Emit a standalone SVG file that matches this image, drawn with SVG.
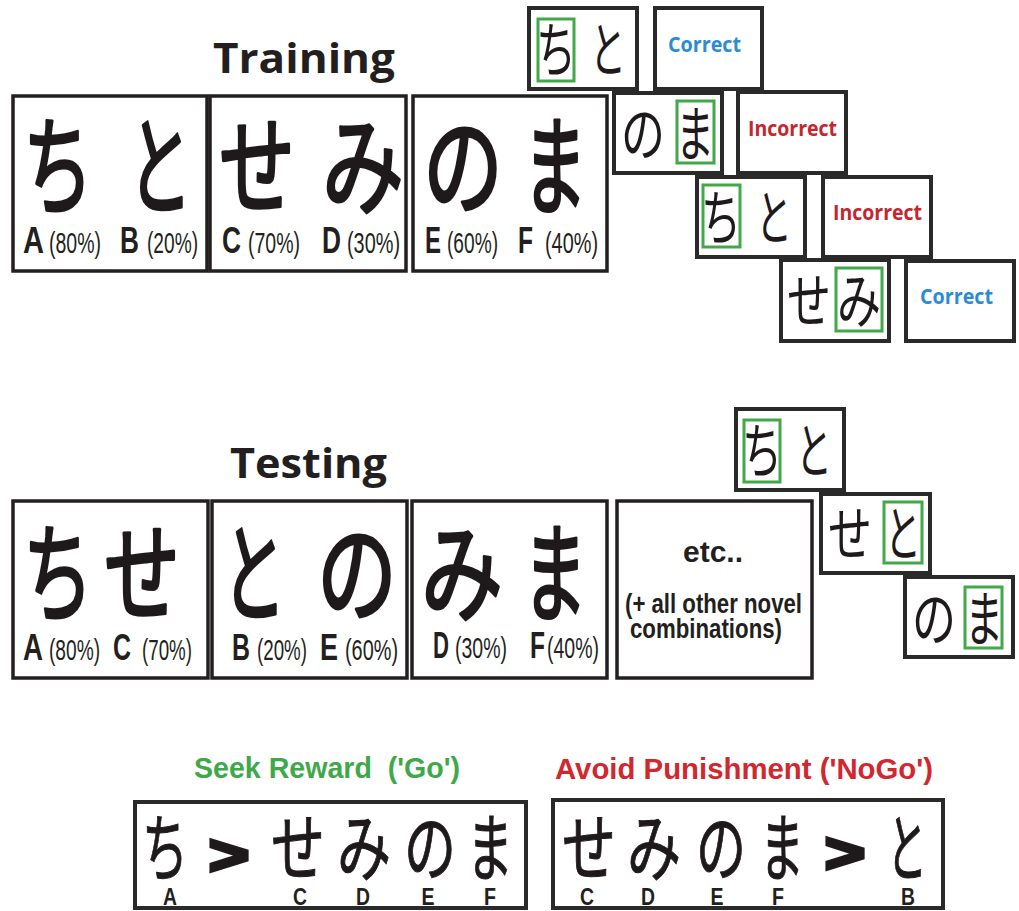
<svg xmlns="http://www.w3.org/2000/svg" width="1019" height="911" viewBox="0 0 1019 911">
  <style>
    .box { fill: #fff; stroke: #231f20; stroke-width: 3.5; }
    .sbox { fill: #fff; stroke: #2a2a2a; stroke-width: 4; }
    .grn { fill: none; stroke: #43a84a; stroke-width: 3; }
    .kl { font-family: "Noto Sans CJK JP", sans-serif; font-weight: 400; font-size: 108px; text-anchor: middle; fill: #1e1a1b; stroke: #1e1a1b; stroke-width: 3; stroke-linejoin: round; }
    .ks { font-family: "Noto Sans CJK JP", sans-serif; font-weight: 400; font-size: 60px; text-anchor: middle; fill: #1e1a1b; }
    .kb { font-family: "Noto Sans CJK JP", sans-serif; font-weight: 400; font-size: 74px; text-anchor: middle; fill: #1e1a1b; stroke: #1e1a1b; stroke-width: 1; }
    .gt { font-family: "Liberation Sans", Arial, sans-serif; font-weight: 700; font-size: 56px; text-anchor: middle; fill: #1e1a1b; stroke: #1e1a1b; stroke-width: 4; stroke-linejoin: miter; }
    .lt { font-family: "Liberation Sans", Arial, sans-serif; font-weight: 700; font-size: 36px; fill: #231f20; }
    .pc { font-family: "Liberation Sans", Arial, sans-serif; font-weight: 400; font-size: 30px; fill: #231f20; }
    .bl { font-family: "Liberation Sans", Arial, sans-serif; font-weight: 700; font-size: 23px; text-anchor: middle; fill: #231f20; }
    .title { font-family: "Open Sans", "Liberation Sans", sans-serif; font-weight: 700; font-size: 42px; fill: #231f20; }
    .fb { font-family: "Open Sans", "Liberation Sans", sans-serif; font-weight: 700; font-size: 22px; }
    .blue { fill: #2b8cd3; }
    .red { fill: #c4262e; }
    .etc { font-family: "Liberation Sans", Arial, sans-serif; font-weight: 700; fill: #231f20; }
    .rule { font-family: "Liberation Sans", Arial, sans-serif; font-weight: 700; font-size: 29px; white-space: pre; }
  </style>

  <!-- Training -->
  <text id="title-training" class="title" x="213" y="73" textLength="182" lengthAdjust="spacingAndGlyphs">Training</text>

  <g id="train-pair-AB">
    <rect class="box" x="13" y="96" width="194" height="175"/>
    <text class="kl" x="58" y="206" textLength="70" lengthAdjust="spacingAndGlyphs">ち</text>
    <text class="kl" x="160" y="206" textLength="64" lengthAdjust="spacingAndGlyphs">と</text>
    <text class="lt" x="23" y="253" textLength="21" lengthAdjust="spacingAndGlyphs">A</text>
    <text class="pc" x="49" y="253" textLength="52" lengthAdjust="spacingAndGlyphs">(80%)</text>
    <text class="lt" x="120" y="253" textLength="19" lengthAdjust="spacingAndGlyphs">B</text>
    <text class="pc" x="147" y="253" textLength="51" lengthAdjust="spacingAndGlyphs">(20%)</text>
  </g>

  <g id="train-pair-CD">
    <rect class="box" x="210" y="96" width="196" height="175"/>
    <text class="kl" x="257" y="206" textLength="76" lengthAdjust="spacingAndGlyphs">せ</text>
    <text class="kl" x="363" y="206" textLength="82" lengthAdjust="spacingAndGlyphs">み</text>
    <text class="lt" x="222" y="253" textLength="19" lengthAdjust="spacingAndGlyphs">C</text>
    <text class="pc" x="248" y="253" textLength="52" lengthAdjust="spacingAndGlyphs">(70%)</text>
    <text class="lt" x="322" y="253" textLength="19" lengthAdjust="spacingAndGlyphs">D</text>
    <text class="pc" x="347" y="253" textLength="53" lengthAdjust="spacingAndGlyphs">(30%)</text>
  </g>

  <g id="train-pair-EF">
    <rect class="box" x="413" y="96" width="194" height="175"/>
    <text class="kl" x="463" y="206" textLength="80" lengthAdjust="spacingAndGlyphs">の</text>
    <text class="kl" x="555" y="206" textLength="64" lengthAdjust="spacingAndGlyphs">ま</text>
    <text class="lt" x="425" y="253" textLength="16" lengthAdjust="spacingAndGlyphs">E</text>
    <text class="pc" x="447" y="253" textLength="51" lengthAdjust="spacingAndGlyphs">(60%)</text>
    <text class="lt" x="518" y="253" textLength="15" lengthAdjust="spacingAndGlyphs">F</text>
    <text class="pc" x="545" y="253" textLength="53" lengthAdjust="spacingAndGlyphs">(40%)</text>
  </g>

  <!-- Training trials: choice pair + feedback -->
  <g id="trial-1">
    <rect class="sbox" x="529" y="8" width="108" height="81"/>
    <rect class="grn" x="538" y="19" width="36" height="62"/>
    <text class="ks" x="556" y="72" textLength="40" lengthAdjust="spacingAndGlyphs">ち</text>
    <text class="ks" x="608" y="72" textLength="36" lengthAdjust="spacingAndGlyphs">と</text>
  </g>
  <g id="feedback-1">
    <rect class="sbox" x="655" y="8" width="107" height="81"/>
    <text class="fb blue" x="668" y="52" textLength="73" lengthAdjust="spacingAndGlyphs">Correct</text>
  </g>

  <g id="trial-2">
    <rect class="sbox" x="614" y="93" width="108" height="80"/>
    <rect class="grn" x="677" y="101" width="37" height="62"/>
    <text class="ks" x="643" y="156" textLength="44" lengthAdjust="spacingAndGlyphs">の</text>
    <text class="ks" x="695" y="156" textLength="38" lengthAdjust="spacingAndGlyphs">ま</text>
  </g>
  <g id="feedback-2">
    <rect class="sbox" x="738" y="92" width="108" height="81"/>
    <text class="fb red" x="748" y="136" textLength="89" lengthAdjust="spacingAndGlyphs">Incorrect</text>
  </g>

  <g id="trial-3">
    <rect class="sbox" x="697" y="177" width="108" height="80"/>
    <rect class="grn" x="703" y="185" width="37" height="62"/>
    <text class="ks" x="721" y="240" textLength="40" lengthAdjust="spacingAndGlyphs">ち</text>
    <text class="ks" x="774" y="240" textLength="36" lengthAdjust="spacingAndGlyphs">と</text>
  </g>
  <g id="feedback-3">
    <rect class="sbox" x="823" y="177" width="108" height="80"/>
    <text class="fb red" x="833" y="220" textLength="89" lengthAdjust="spacingAndGlyphs">Incorrect</text>
  </g>

  <g id="trial-4">
    <rect class="sbox" x="781" y="260" width="108" height="81"/>
    <rect class="grn" x="836" y="268" width="46" height="63"/>
    <text class="ks" x="809" y="323" textLength="44" lengthAdjust="spacingAndGlyphs">せ</text>
    <text class="ks" x="859" y="323" textLength="44" lengthAdjust="spacingAndGlyphs">み</text>
  </g>
  <g id="feedback-4">
    <rect class="sbox" x="906" y="261" width="108" height="80"/>
    <text class="fb blue" x="920" y="304" textLength="73" lengthAdjust="spacingAndGlyphs">Correct</text>
  </g>

  <!-- Testing -->
  <text id="title-testing" class="title" x="230" y="478" textLength="157" lengthAdjust="spacingAndGlyphs">Testing</text>

  <g id="test-pair-AC">
    <rect class="box" x="13" y="501" width="195" height="177"/>
    <text class="kl" x="58" y="613" textLength="70" lengthAdjust="spacingAndGlyphs">ち</text>
    <text class="kl" x="142" y="613" textLength="76" lengthAdjust="spacingAndGlyphs">せ</text>
    <text class="lt" x="23" y="660" textLength="20" lengthAdjust="spacingAndGlyphs">A</text>
    <text class="pc" x="49" y="660" textLength="51" lengthAdjust="spacingAndGlyphs">(80%)</text>
    <text class="lt" x="113" y="660" textLength="18" lengthAdjust="spacingAndGlyphs">C</text>
    <text class="pc" x="142" y="660" textLength="50" lengthAdjust="spacingAndGlyphs">(70%)</text>
  </g>

  <g id="test-pair-BE">
    <rect class="box" x="212" y="501" width="195" height="177"/>
    <text class="kl" x="254" y="613" textLength="64" lengthAdjust="spacingAndGlyphs">と</text>
    <text class="kl" x="357" y="613" textLength="80" lengthAdjust="spacingAndGlyphs">の</text>
    <text class="lt" x="232" y="660" textLength="18" lengthAdjust="spacingAndGlyphs">B</text>
    <text class="pc" x="257" y="660" textLength="50" lengthAdjust="spacingAndGlyphs">(20%)</text>
    <text class="lt" x="320" y="660" textLength="18" lengthAdjust="spacingAndGlyphs">E</text>
    <text class="pc" x="345" y="660" textLength="53" lengthAdjust="spacingAndGlyphs">(60%)</text>
  </g>

  <g id="test-pair-DF">
    <rect class="box" x="412" y="501" width="195" height="177"/>
    <text class="kl" x="462" y="613" textLength="82" lengthAdjust="spacingAndGlyphs">み</text>
    <text class="kl" x="555" y="613" textLength="64" lengthAdjust="spacingAndGlyphs">ま</text>
    <text class="lt" x="433" y="658" textLength="16" lengthAdjust="spacingAndGlyphs">D</text>
    <text class="pc" x="455" y="658" textLength="52" lengthAdjust="spacingAndGlyphs">(30%)</text>
    <text class="lt" x="530" y="658" textLength="15" lengthAdjust="spacingAndGlyphs">F</text>
    <text class="pc" x="547" y="658" textLength="52" lengthAdjust="spacingAndGlyphs">(40%)</text>
  </g>

  <g id="test-etc">
    <rect class="box" x="617" y="501" width="195" height="177"/>
    <text class="etc" x="713" y="562" font-size="30" text-anchor="middle">etc..</text>
    <text class="etc" x="625" y="613" font-size="28" textLength="177" lengthAdjust="spacingAndGlyphs">(+ all other novel</text>
    <text class="etc" x="630" y="638" font-size="28" textLength="152" lengthAdjust="spacingAndGlyphs">combinations)</text>
  </g>

  <!-- Testing trials -->
  <g id="test-trial-1">
    <rect class="sbox" x="736" y="409" width="108" height="81"/>
    <rect class="grn" x="744" y="420" width="36" height="62"/>
    <text class="ks" x="762" y="473" textLength="40" lengthAdjust="spacingAndGlyphs">ち</text>
    <text class="ks" x="814" y="473" textLength="36" lengthAdjust="spacingAndGlyphs">と</text>
  </g>
  <g id="test-trial-2">
    <rect class="sbox" x="821" y="494" width="109" height="79"/>
    <rect class="grn" x="884" y="502" width="38" height="61"/>
    <text class="ks" x="850" y="556" textLength="44" lengthAdjust="spacingAndGlyphs">せ</text>
    <text class="ks" x="903" y="556" textLength="36" lengthAdjust="spacingAndGlyphs">と</text>
  </g>
  <g id="test-trial-3">
    <rect class="sbox" x="905" y="577" width="108" height="80"/>
    <rect class="grn" x="965" y="587" width="37" height="61"/>
    <text class="ks" x="934" y="641" textLength="44" lengthAdjust="spacingAndGlyphs">の</text>
    <text class="ks" x="984" y="641" textLength="38" lengthAdjust="spacingAndGlyphs">ま</text>
  </g>

  <!-- Learning biases -->
  <g id="seek-reward">
    <text class="rule" x="194" y="778" fill="#3fa84a" textLength="266" lengthAdjust="spacingAndGlyphs">Seek Reward&#160; ('Go')</text>
    <rect class="sbox" x="135" y="802" width="391" height="106"/>
    <text class="kb" x="165" y="875" textLength="46" lengthAdjust="spacingAndGlyphs">ち</text>
    <text class="gt" x="229" y="874" textLength="40" lengthAdjust="spacingAndGlyphs">&gt;</text>
    <text class="kb" x="298" y="875" textLength="54" lengthAdjust="spacingAndGlyphs">せ</text>
    <text class="kb" x="364" y="875" textLength="54" lengthAdjust="spacingAndGlyphs">み</text>
    <text class="kb" x="430" y="875" textLength="52" lengthAdjust="spacingAndGlyphs">の</text>
    <text class="kb" x="490" y="875" textLength="46" lengthAdjust="spacingAndGlyphs">ま</text>
    <text class="bl" x="170" y="905" textLength="14" lengthAdjust="spacingAndGlyphs">A</text>
    <text class="bl" x="300" y="905" textLength="14" lengthAdjust="spacingAndGlyphs">C</text>
    <text class="bl" x="363" y="905" textLength="14" lengthAdjust="spacingAndGlyphs">D</text>
    <text class="bl" x="428" y="905" textLength="13" lengthAdjust="spacingAndGlyphs">E</text>
    <text class="bl" x="490" y="905" textLength="12" lengthAdjust="spacingAndGlyphs">F</text>
  </g>

  <g id="avoid-punishment">
    <text class="rule" x="555" y="779" fill="#d0282e" textLength="378" lengthAdjust="spacingAndGlyphs">Avoid Punishment ('NoGo')</text>
    <rect class="sbox" x="553" y="800" width="390" height="108"/>
    <text class="kb" x="589" y="875" textLength="54" lengthAdjust="spacingAndGlyphs">せ</text>
    <text class="kb" x="654" y="875" textLength="54" lengthAdjust="spacingAndGlyphs">み</text>
    <text class="kb" x="721" y="875" textLength="50" lengthAdjust="spacingAndGlyphs">の</text>
    <text class="kb" x="782" y="875" textLength="44" lengthAdjust="spacingAndGlyphs">ま</text>
    <text class="gt" x="845" y="872" textLength="40" lengthAdjust="spacingAndGlyphs">&gt;</text>
    <text class="kb" x="907" y="875" textLength="40" lengthAdjust="spacingAndGlyphs">と</text>
    <text class="bl" x="587" y="905" textLength="14" lengthAdjust="spacingAndGlyphs">C</text>
    <text class="bl" x="648" y="905" textLength="14" lengthAdjust="spacingAndGlyphs">D</text>
    <text class="bl" x="717" y="905" textLength="13" lengthAdjust="spacingAndGlyphs">E</text>
    <text class="bl" x="778" y="905" textLength="12" lengthAdjust="spacingAndGlyphs">F</text>
    <text class="bl" x="908" y="905" textLength="14" lengthAdjust="spacingAndGlyphs">B</text>
  </g>
</svg>
